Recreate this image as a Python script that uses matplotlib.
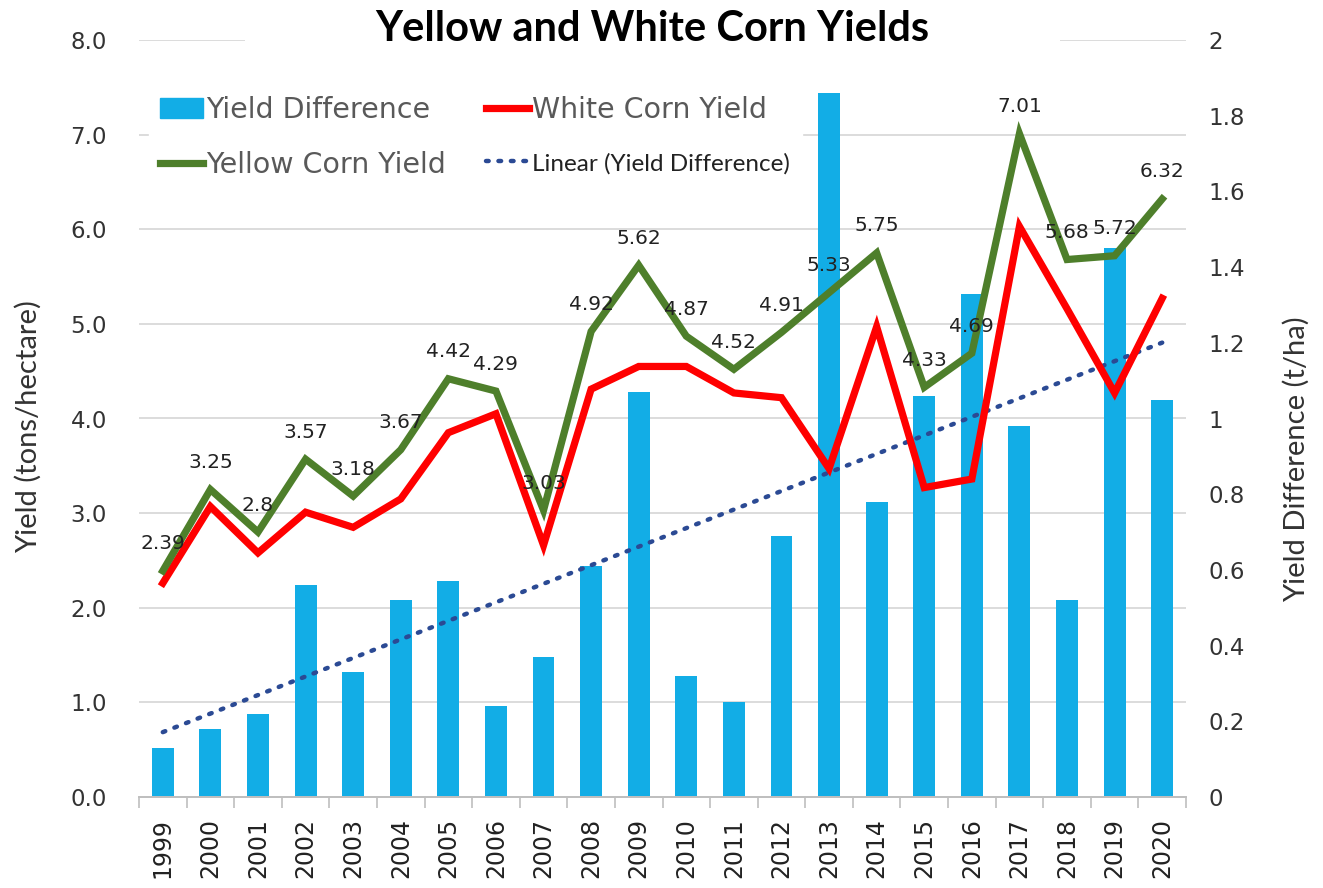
import matplotlib.pyplot as plt
import numpy as np
from matplotlib.ticker import FixedLocator, FuncFormatter
from matplotlib.lines import Line2D
from matplotlib.patches import Patch, Rectangle

years = [str(y) for y in range(1999, 2021)]
yellow = [2.39, 3.25, 2.8, 3.57, 3.18, 3.67, 4.42, 4.29, 3.03, 4.92, 5.62,
          4.87, 4.52, 4.91, 5.33, 5.75, 4.33, 4.69, 7.01, 5.68, 5.72, 6.32]
white = [2.26, 3.07, 2.58, 3.01, 2.85, 3.15, 3.85, 4.05, 2.66, 4.31, 4.55,
         4.55, 4.27, 4.22, 3.47, 4.97, 3.27, 3.36, 6.03, 5.16, 4.27, 5.27]
diff = [0.13, 0.18, 0.22, 0.56, 0.33, 0.52, 0.57, 0.24, 0.37, 0.61, 1.07,
        0.32, 0.25, 0.69, 1.86, 0.78, 1.06, 1.33, 0.98, 0.52, 1.45, 1.05]
left_ticks = [0, 1, 2, 3, 4, 5, 6, 7, 8]
right_ticks = [0, 0.2, 0.4, 0.6, 0.8, 1, 1.2, 1.4, 1.6, 1.8, 2]

x = np.arange(len(years))
coef = np.polyfit(x, diff, 1)
trend = np.polyval(coef, x)

BLUE = '#12ADE6'
GREEN = '#4E7F2B'
RED = '#FF0000'
TREND = '#2B4A94'
dots = (0, (0.6, 2.2))

fig = plt.figure(figsize=(13.23, 8.88), dpi=100)
ax = fig.add_axes([139 / 1323, 1 - 797 / 888, 1047 / 1323, 757 / 888])
ax2 = ax.twinx()
ax.set_zorder(2)
ax.patch.set_visible(False)

# bars + trend on the right axis
ax2.bar(x, diff, width=0.46, color=BLUE, zorder=2)
ax2.plot(x, trend, color=TREND, lw=3.2, linestyle=dots,
         dash_capstyle='round', zorder=3)
ax2.set_ylim(0, 2)
ax2.set_yticks(right_ticks)
ax2.yaxis.set_major_formatter(FuncFormatter(lambda v, p: f'{v:g}'))
ax2.yaxis.set_minor_locator(FixedLocator([t / 4 for t in left_ticks]))
ax2.yaxis.remove_overlapping_locs = False
ax2.grid(which='minor', axis='y', color='#D9D9D9', lw=1.3, zorder=0)
ax2.tick_params(axis='y', which='both', length=0, labelsize=16.5,
                labelcolor='#333333', pad=16)
ax2.set_ylabel('Yield Difference (t/ha)', family='Lato', fontsize=21,
               color='#333333')
ax2.yaxis.set_label_coords(1.093, 0.446)

# lines on the left axis
ax.plot(x, white, color=RED, lw=5.2, solid_joinstyle='miter', zorder=4)
ax.plot(x, yellow, color=GREEN, lw=5.2, solid_joinstyle='miter', zorder=5)
for xi, v in zip(x, yellow):
    ax.annotate(f'{v:g}', (xi, v), xytext=(0, 27), textcoords='offset pixels',
                ha='center', va='center', fontsize=14.5, color='#222222',
                zorder=6)

ax.set_ylim(0, 8)
ax.set_yticks(left_ticks)
ax.yaxis.set_major_formatter(FuncFormatter(lambda v, p: f'{v:.1f}'))
ax.tick_params(axis='y', length=0, labelsize=16.5, labelcolor='#333333',
               pad=23)
ax.set_ylabel('Yield (tons/hectare)', family='Lato', fontsize=21,
              color='#333333')
ax.yaxis.set_label_coords(-0.093, 0.489)

ax.set_xlim(-0.5, len(years) - 0.5)
ax.set_xticks(x)
ax.set_xticklabels(years, rotation=90, fontsize=17, color='#222222')
ax.set_xticks(np.arange(-0.5, len(years), 1), minor=True)
ax.tick_params(axis='x', which='major', length=0, pad=15)
ax.tick_params(axis='x', which='minor', length=8, color='#BFBFBF', width=1.2)

for a in (ax, ax2):
    for s in ('top', 'left', 'right'):
        a.spines[s].set_visible(False)
    a.spines['bottom'].set_color('#BFBFBF')
    a.spines['bottom'].set_linewidth(1.3)
ax2.tick_params(axis='x', which='both', length=0)

handles = [Patch(color=BLUE),
           Line2D([], [], color=GREEN, lw=5.2),
           Line2D([], [], color=RED, lw=5.2),
           Line2D([], [], color=TREND, lw=3.2, linestyle=dots,
                  dash_capstyle='round')]
labels = ['Yield Difference', 'Yellow Corn Yield', 'White Corn Yield',
          'Linear (Yield Difference)']
leg = ax.legend(handles, labels, ncol=2, loc='upper left',
                bbox_to_anchor=(-0.004, 0.960), frameon=True, fancybox=False,
                edgecolor='white', facecolor='white', framealpha=1,
                fontsize=20.5, handlelength=1.5, handletextpad=0.12,
                columnspacing=1.4, labelspacing=0.95, borderpad=0.4)
for t in leg.get_texts():
    t.set_color('#595959')
leg.get_texts()[3].set_family('Lato')
leg.get_texts()[3].set_fontsize(17.5)
leg.get_texts()[3].set_color('#222222')
leg.set_zorder(10)

# white title box that hides the top gridline, as in the original
fig.add_artist(Rectangle((245 / 1323, 1 - 55 / 888), 815 / 1323, 48 / 888,
                         transform=fig.transFigure, facecolor='white',
                         edgecolor='none', zorder=9))
fig.text(652 / 1323, 1 - 29 / 888, 'Yellow and White Corn Yields',
         ha='center', va='center', fontsize=30, fontweight='bold',
         family='Lato', zorder=10)

fig.savefig('out.png', dpi=100)
